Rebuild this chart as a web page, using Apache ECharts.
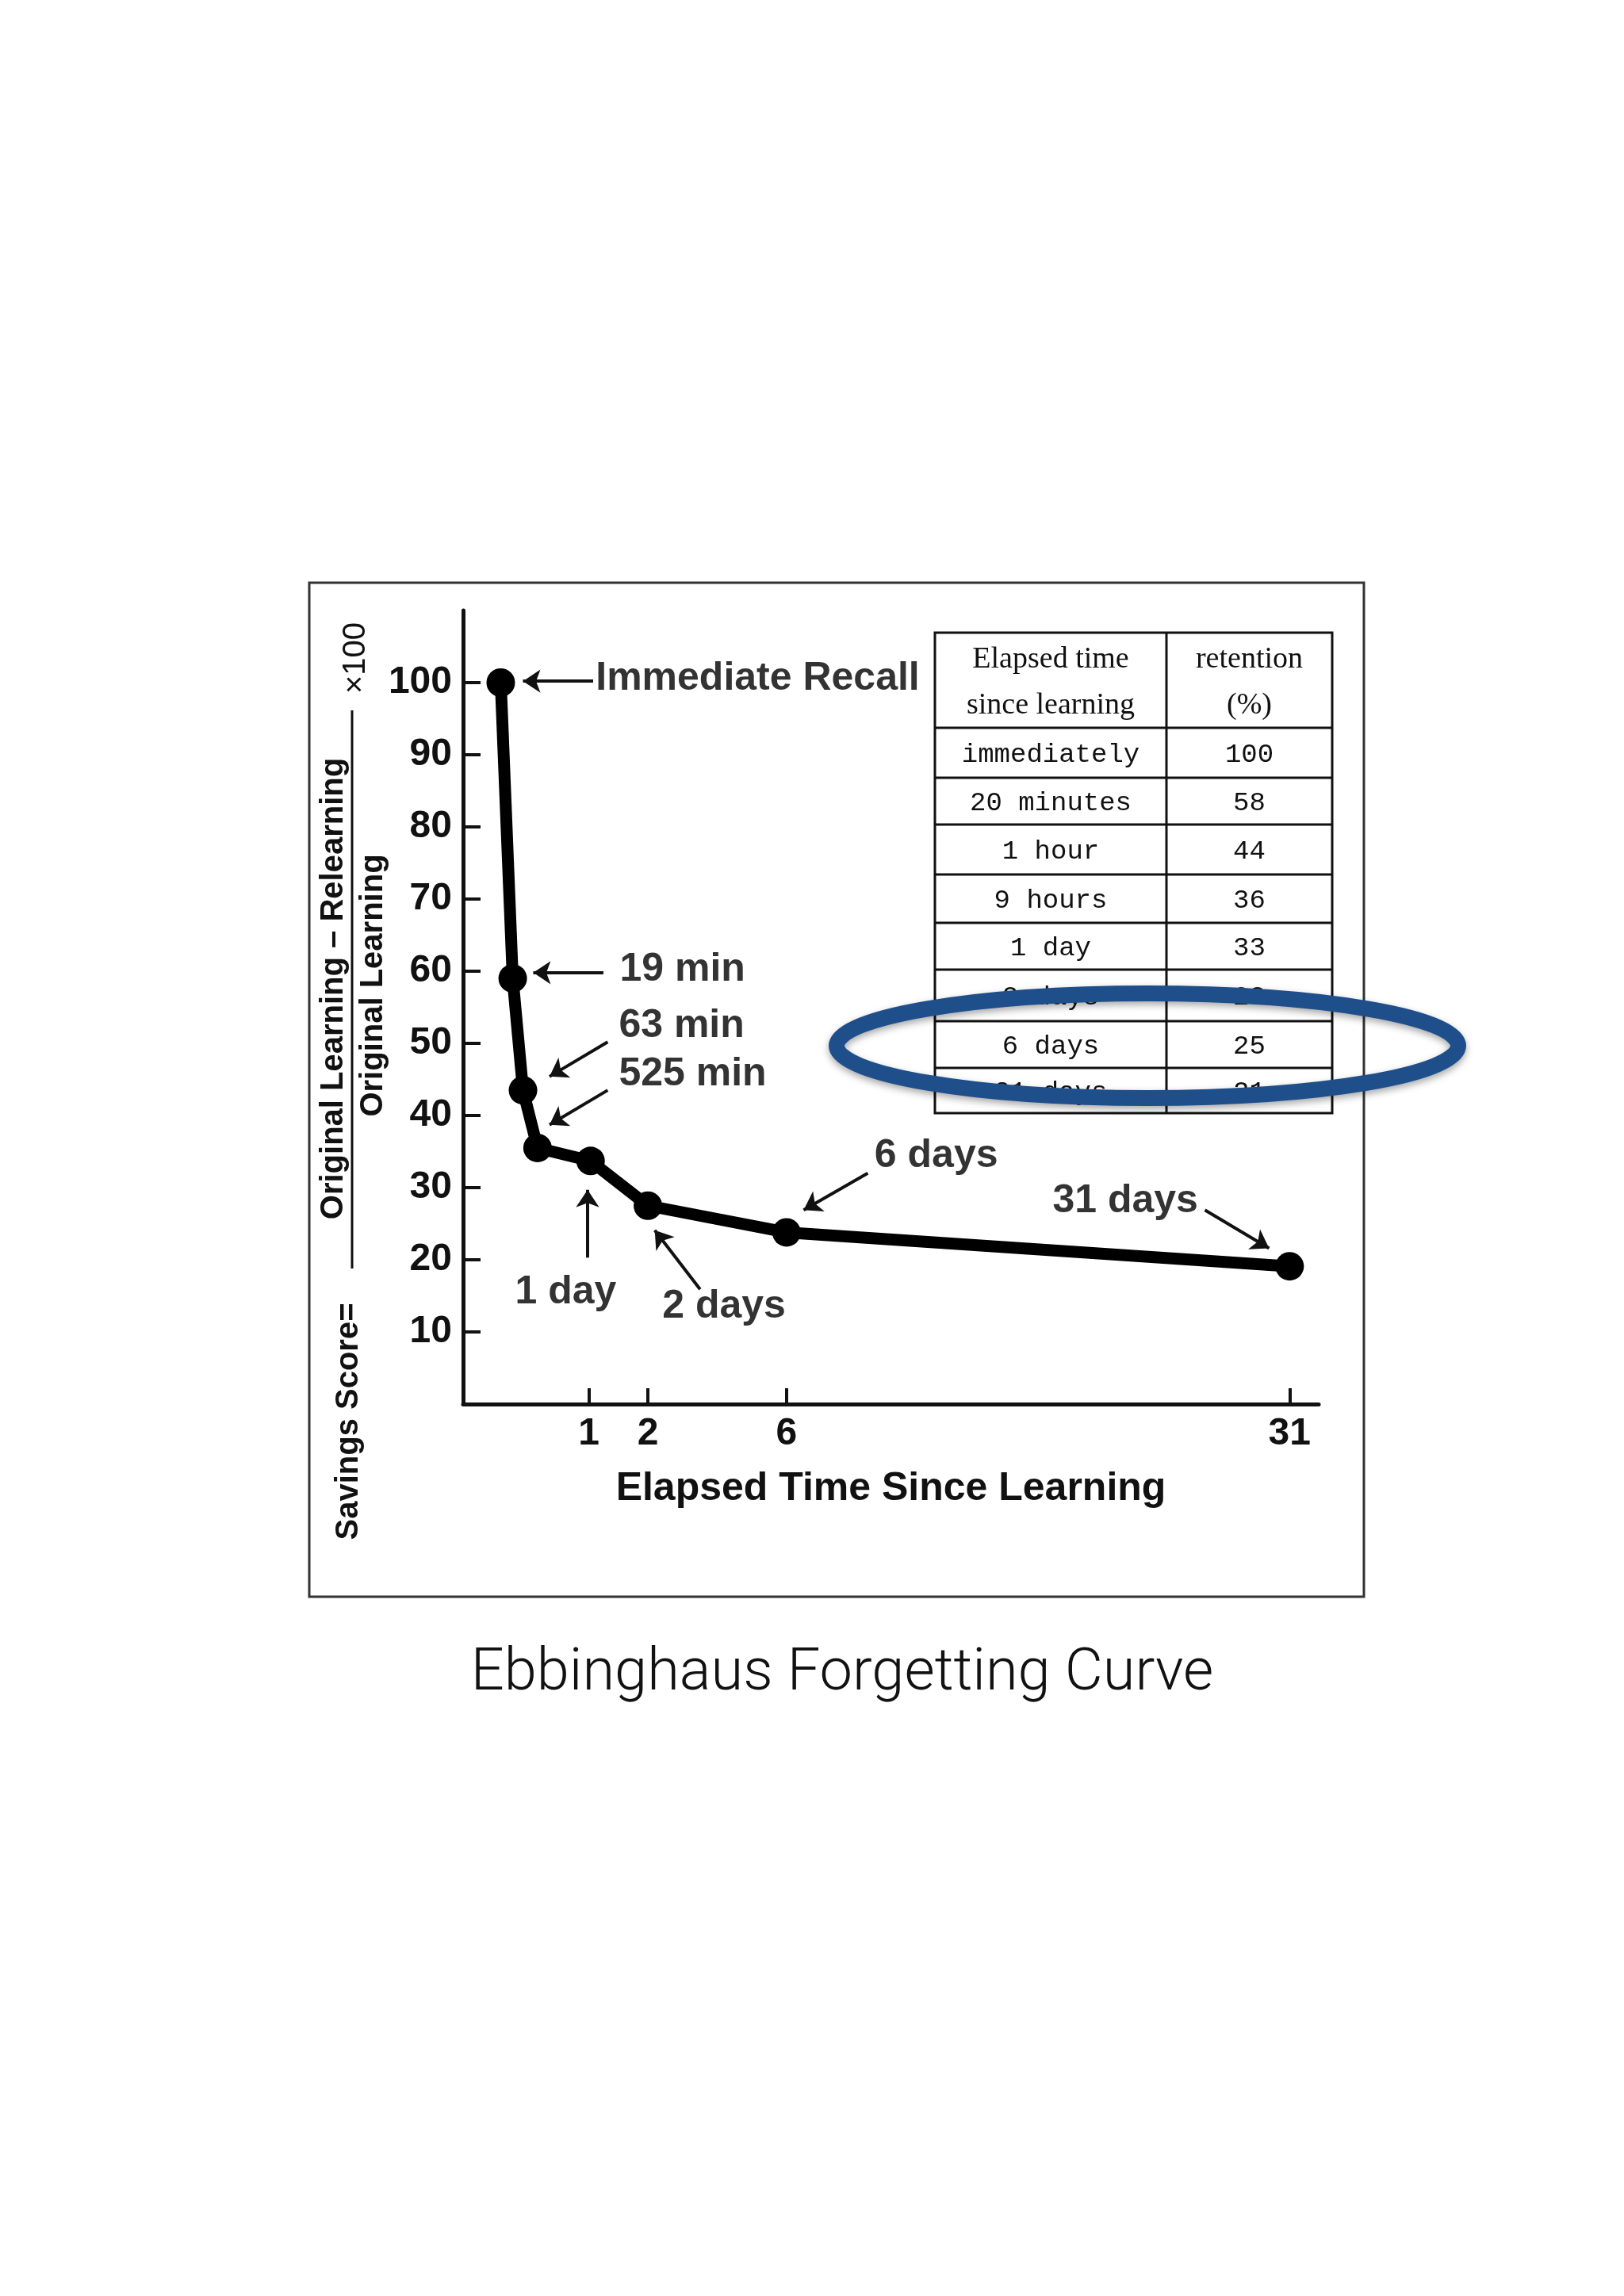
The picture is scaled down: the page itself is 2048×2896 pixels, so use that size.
<!DOCTYPE html>
<html>
<head>
<meta charset="utf-8">
<script src="https://cdn.jsdelivr.net/npm/echarts@6/dist/echarts.min.js"></script>
<style>
  html, body { margin: 0; padding: 0; background: #fff; }
  #chart { width: 2048px; height: 2896px; }
</style>
</head>
<body>
<div id="chart"></div>
<script>
// x is measured in the figure's own (non-linear) time units, 0..100 along the axis
const pointLabels = ["immediate", "19 min", "63 min", "525 min", "1 day", "2 days", "6 days", "31 days"];
const pointX = [4.4, 5.8, 7.0, 8.7, 14.9, 21.6, 37.8, 96.6];
const pointY = [100, 59, 43.5, 35.5, 33.7, 27.5, 23.8, 19.1];

const xTickPos = [14.7, 21.6, 37.8, 96.6];
const xTickLabels = ["1", "2", "6", "31"];

const tableTimes = ["immediately", "20 minutes", "1 hour", "9 hours", "1 day", "2 days", "6 days", "31 days"];
const tableRetention = ["100", "58", "44", "36", "33", "28", "25", "21"];

// annotation texts: [text, x, y, align]
const notes = [
  ["Immediate Recall", 15.5, 100.5, "left"],
  ["19 min", 18.3, 60.2, "left"],
  ["63 min", 18.2, 52.4, "left"],
  ["525 min", 18.2, 45.7, "left"],
  ["1 day", 12.0, 15.5, "center"],
  ["2 days", 30.5, 13.5, "center"],
  ["6 days", 55.3, 34.4, "center"],
  ["31 days", 77.4, 28.1, "center"]
];
// arrows: [fromX, fromY, toX, toY]
const arrows = [
  [15.2, 100.2, 7.0, 100.2],
  [16.4, 59.8, 8.2, 59.8],
  [16.9, 50.2, 10.1, 45.4],
  [16.9, 43.5, 10.1, 38.7],
  [14.55, 20.3, 14.55, 29.7],
  [27.7, 15.9, 22.4, 24.1],
  [47.3, 32.0, 39.8, 26.9],
  [86.7, 26.9, 94.2, 21.6]
];

const sans = "'Liberation Sans', Arial, sans-serif";
const chart = echarts.init(document.getElementById("chart"));

// table graphics
const tbl = [];
const tx0 = 1179, tx1 = 1680, tsplit = 1471;
const rowEdges = [798, 918, 981, 1040, 1103, 1164, 1223, 1288, 1347, 1404];
tbl.push({ type: "rect", shape: { x: tx0, y: rowEdges[0], width: tx1 - tx0, height: rowEdges[rowEdges.length - 1] - rowEdges[0] },
  style: { fill: "#fff", stroke: "#111", lineWidth: 3 } });
tbl.push({ type: "line", shape: { x1: tsplit, y1: rowEdges[0], x2: tsplit, y2: rowEdges[rowEdges.length - 1] }, style: { stroke: "#111", lineWidth: 3 } });
rowEdges.slice(1, -1).forEach((y) => {
  tbl.push({ type: "line", shape: { x1: tx0, y1: y, x2: tx1, y2: y }, style: { stroke: "#111", lineWidth: 3 } });
});
const serif = "'Liberation Serif', 'DejaVu Serif', serif";
const mono = "'Liberation Mono', 'DejaVu Sans Mono', monospace";
[["Elapsed time", 832], ["since learning", 890]].forEach(([t, y]) => {
  tbl.push({ type: "text", style: { text: t, x: (tx0 + tsplit) / 2, y: y, align: "center", verticalAlign: "middle", font: "38px " + serif, fill: "#111" } });
});
[["retention", 832], ["(%)", 890]].forEach(([t, y]) => {
  tbl.push({ type: "text", style: { text: t, x: (tsplit + tx1) / 2, y: y, align: "center", verticalAlign: "middle", font: "38px " + serif, fill: "#111" } });
});
tableTimes.forEach((t, i) => {
  const y = (rowEdges[i + 1] + rowEdges[i + 2]) / 2 + 2;
  tbl.push({ type: "text", style: { text: t, x: (tx0 + tsplit) / 2, y: y, align: "center", verticalAlign: "middle", font: "34px " + mono, fill: "#111" } });
  tbl.push({ type: "text", style: { text: tableRetention[i], x: (tsplit + tx1) / 2, y: y, align: "center", verticalAlign: "middle", font: "34px " + mono, fill: "#111" } });
});
tbl.push({ type: "ellipse", shape: { cx: 1447, cy: 1319, rx: 392, ry: 66 },
  style: { fill: "none", stroke: "#1f4f8a", lineWidth: 20, shadowBlur: 10, shadowColor: "rgba(0,0,0,0.35)", shadowOffsetY: 4 } });

// y-axis name (rotated fraction)
const yname = [
  { type: "text", x: 440, y: 1793, rotation: Math.PI / 2, style: { text: "Savings Score=", align: "center", verticalAlign: "middle", font: "bold 40px " + sans, fill: "#111" } },
  { type: "text", x: 421, y: 1247, rotation: Math.PI / 2, style: { text: "Original Learning \u2013 Relearning", align: "center", verticalAlign: "middle", font: "bold 40px " + sans, fill: "#111" } },
  { type: "line", shape: { x1: 444, y1: 896, x2: 444, y2: 1600 }, style: { stroke: "#111", lineWidth: 3 } },
  { type: "text", x: 471, y: 1243, rotation: Math.PI / 2, style: { text: "Original Learning", align: "center", verticalAlign: "middle", font: "bold 40px " + sans, fill: "#111" } },
  { type: "text", x: 449, y: 830, rotation: Math.PI / 2, style: { text: "\u00d7100", align: "center", verticalAlign: "middle", font: "40px " + sans, fill: "#111" } }
];

chart.setOption({
  backgroundColor: "#fff",
  animation: false,
  grid: { left: 584, right: 385, top: 770, bottom: 1125 },
  xAxis: {
    type: "value", min: 0, max: 100,
    name: "Elapsed Time Since Learning", nameLocation: "middle", nameGap: 82,
    nameTextStyle: { fontFamily: sans, fontWeight: "bold", fontSize: 50, color: "#111" },
    axisLine: { lineStyle: { color: "#111", width: 5 } },
    axisTick: { inside: true, length: 20, lineStyle: { color: "#111", width: 4 }, customValues: xTickPos },
    axisLabel: { customValues: xTickPos, margin: 14, fontFamily: sans, fontWeight: "bold", fontSize: 48, color: "#111",
      formatter: (v) => xTickLabels[xTickPos.indexOf(v)] },
    splitLine: { show: false }
  },
  yAxis: {
    type: "value", min: 0, max: 110, interval: 10,
    axisLine: { show: true, lineStyle: { color: "#111", width: 5 } },
    axisTick: { show: true, inside: true, length: 22, lineStyle: { color: "#111", width: 4 },
      customValues: [10, 20, 30, 40, 50, 60, 70, 80, 90, 100] },
    axisLabel: { margin: 14, fontFamily: sans, fontWeight: "bold", fontSize: 48, color: "#111",
      customValues: [10, 20, 30, 40, 50, 60, 70, 80, 90, 100] },
    splitLine: { show: false }
  },
  graphic: [
    { type: "rect", shape: { x: 390, y: 735, width: 1330, height: 1279 }, style: { fill: "none", stroke: "#333", lineWidth: 3 } },
    { type: "text", style: { text: "Ebbinghaus Forgetting Curve", x: 1062, y: 2112, align: "center", verticalAlign: "middle",
      font: "300 74px Roboto, " + sans, fill: "#111" } }
  ].concat(yname, tbl),
  series: [
    {
      type: "line", name: "retention",
      data: pointX.map((x, i) => [x, pointY[i]]),
      lineStyle: { color: "#000", width: 15 },
      itemStyle: { color: "#000" },
      symbol: "circle", symbolSize: 36, z: 3
    },
    {
      type: "lines", coordinateSystem: "cartesian2d",
      symbol: ["none", "arrow"], symbolSize: 22,
      lineStyle: { color: "#111", width: 4, opacity: 1 },
      data: arrows.map((a) => ({ coords: [[a[0], a[1]], [a[2], a[3]]] })), z: 4
    },
    {
      type: "scatter", symbolSize: 0, silent: true,
      itemStyle: { color: "#000" },
      label: { show: true, color: "#000", textBorderWidth: 0 },
      data: notes.map((n) => ({ value: [n[1], n[2]], label: { show: true, position: "inside", formatter: n[0], align: n[3],
        fontFamily: sans, fontWeight: "bold", fontSize: 50, color: "#000", textBorderWidth: 0 } })),
      z: 5
    }
  ]
});
</script>
</body>
</html>
